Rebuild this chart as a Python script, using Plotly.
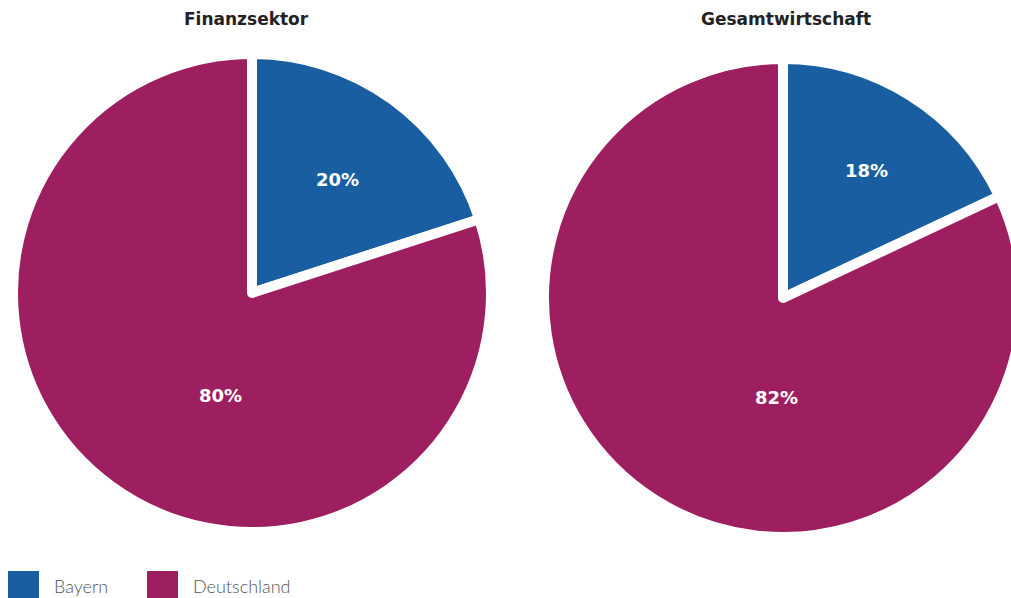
import plotly.graph_objects as go

categories = ["Bayern", "Deutschland"]
finanz_values = [20, 80]
gesamt_values = [18, 82]
titles = ["Finanzsektor", "Gesamtwirtschaft"]
colors = ["#1a5ea2", "#9e1f5f"]

W, H = 1022, 598

def px_dom(x0, x1, y0, y1):
    return dict(x=[x0 / W, x1 / W], y=[1 - y1 / H, 1 - y0 / H])

R = 239
centers = [(252, 293), (783, 298)]
# label placement (pixel offsets from pie centre), per pie, per slice
label_offsets = [[(85, -114), (-32, 102)], [(83, -128), (-7, 99)]]

fig = go.Figure()
for vals, (cx, cy), offs in zip([finanz_values, gesamt_values], centers, label_offsets):
    fig.add_trace(go.Pie(
        labels=categories, values=vals, sort=False, direction="clockwise", rotation=0,
        marker=dict(colors=colors, line=dict(color="white", width=10)),
        textinfo="none",
        domain=px_dom(cx - R, cx + R, cy - R, cy + R),
        showlegend=False, hoverinfo="label+percent",
    ))
    total = sum(vals)
    for v, (dx, dy) in zip(vals, offs):
        fig.add_annotation(text=f"{round(100 * v / total)}%", x=(cx + dx) / W, y=1 - (cy + dy) / H,
                           xref="paper", yref="paper", showarrow=False,
                           xanchor="center", yanchor="middle",
                           font=dict(family="DejaVu Sans", size=18, color="white", weight="bold"))

title_x = [246, 786]
for t, tx in zip(titles, title_x):
    fig.add_annotation(text=t, x=tx / W, y=1 - 19 / H, xref="paper", yref="paper",
                       showarrow=False, xanchor="center", yanchor="middle",
                       font=dict(family="DejaVu Sans", size=17, color="#222222", weight="bold"))

# legend built from shapes + annotations
leg_x = [8, 147]
for cat, col, lx in zip(categories, colors, leg_x):
    fig.add_shape(type="rect", xref="paper", yref="paper",
                  x0=lx / W, x1=(lx + 31) / W, y0=1 - 598 / H, y1=1 - 571 / H,
                  fillcolor=col, line=dict(width=0))
    fig.add_annotation(text=cat, x=(lx + 44) / W, y=1 - 586 / H, xref="paper", yref="paper",
                       showarrow=False, xanchor="left", yanchor="middle",
                       font=dict(family="Lato", size=18, color="#555555", weight=300))

fig.update_layout(width=W, height=H, margin=dict(l=0, r=0, t=0, b=0),
                  paper_bgcolor="white", plot_bgcolor="white")

fig.write_html("out.html", config={"displayModeBar": False},
               post_script="document.body.style.margin='0';document.body.style.overflow='hidden';document.documentElement.style.overflow='hidden';")
